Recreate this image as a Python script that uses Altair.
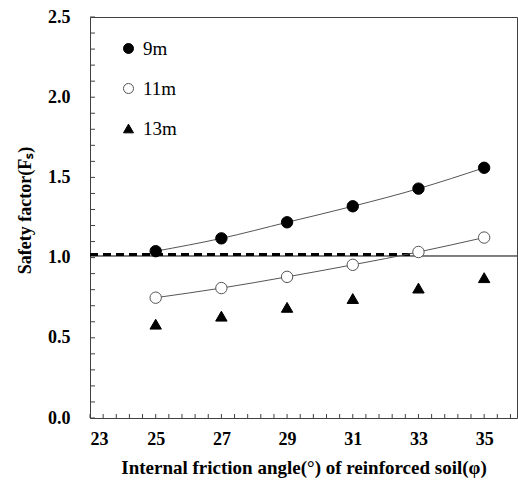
import altair as alt
import pandas as pd

# Internal friction angle of the reinforced soil (degrees)
angles = [25, 27, 29, 31, 33, 35]
# Safety factor for each wall height
fs_9m = [1.04, 1.12, 1.22, 1.32, 1.43, 1.56]
fs_11m = [0.75, 0.81, 0.88, 0.955, 1.035, 1.125]
fs_13m = [0.585, 0.635, 0.69, 0.745, 0.81, 0.875]
heights = ["9m", "11m", "13m"]

# Axis tick positions
x_labels = [23, 25, 27, 29, 31, 33, 35]
y_labels = [0.0, 0.5, 1.0, 1.5, 2.0, 2.5]
x_minor = [round(23 + 0.4 * i, 1) for i in range(33)]
y_minor = [round(0.1 * i, 1) for i in range(26)]

# Reference safety-factor lines
dashed_fs, dashed_from, dashed_to = 1.02, 23, 33
solid_fs, solid_from, solid_to = 1.01, 23, 36

FONT = "Liberation Serif, Times New Roman, serif"
W, H = 427, 401

df = pd.DataFrame({
    "angle": angles * 3,
    "fs": fs_9m + fs_11m + fs_13m,
    "height": [h for h in heights for _ in angles],
})
curves = df[df["height"] != "13m"]

xs = alt.Scale(domain=[23, 36], nice=False, zero=False)
ys = alt.Scale(domain=[0, 2.5], nice=False)

x_axis = alt.Axis(
    values=x_labels, format="d", ticks=False, grid=False, domain=False,
    labelFont=FONT, labelFontSize=18, labelFontWeight="bold", labelColor="black",
    labelPadding=12,
    title="Internal friction angle(°) of reinforced soil(φ)",
    titleFont=FONT, titleFontSize=19, titleFontWeight="bold", titleColor="black",
    titleBaseline="alphabetic", titleY=55,
)
y_axis = alt.Axis(
    values=y_labels, format=".1f", ticks=False, grid=False, domain=False,
    labelFont=FONT, labelFontSize=18, labelFontWeight="bold", labelColor="black",
    labelPadding=20,
    title="Safety factor(F\u209b)",
    titleFont=FONT, titleFontSize=18, titleFontWeight="bold", titleColor="black",
    titleAngle=270, titleAlign="center", titleBaseline="bottom",
    titleX=-56, titleY=193,
)

X = alt.X("angle:Q", scale=xs, axis=x_axis)
Y = alt.Y("fs:Q", scale=ys, axis=y_axis)

# Reference lines
dashed = alt.Chart(pd.DataFrame({"a": [dashed_from], "b": [dashed_to], "v": [dashed_fs]})).mark_rule(
    color="black", strokeWidth=3, strokeDash=[8, 5]
).encode(x=alt.X("a:Q", scale=xs, axis=x_axis), x2="b:Q", y=alt.Y("v:Q", scale=ys, axis=y_axis))

solid = alt.Chart(pd.DataFrame({"a": [solid_from], "b": [solid_to], "v": [solid_fs]})).mark_rule(
    color="black", strokeWidth=1
).encode(x=alt.X("a:Q", scale=xs), x2="b:Q", y=alt.Y("v:Q", scale=ys))

# Trend curves through the 9m and 11m results
lines = alt.Chart(curves).mark_line(color="#555555", strokeWidth=1, interpolate="monotone").encode(
    x=X, y=Y, detail="height:N"
)

legend = alt.Legend(
    title=None, orient="none", legendX=29, legendY=22,
    labelFont=FONT, labelFontSize=19, labelColor="black", labelOffset=5,
    symbolSize=100, symbolStrokeWidth=1, rowPadding=20,
)
points = alt.Chart(df).mark_point(filled=False, opacity=1, size=130, strokeWidth=1).encode(
    x=X, y=Y,
    shape=alt.Shape("height:N", sort=heights,
                    scale=alt.Scale(domain=heights, range=["circle", "circle", "triangle-up"]),
                    legend=legend),
    fill=alt.Fill("height:N", sort=heights,
                  scale=alt.Scale(domain=heights, range=["black", "white", "black"]),
                  legend=legend),
    stroke=alt.Stroke("height:N", sort=heights,
                      scale=alt.Scale(domain=heights, range=["black", "#555555", "black"]),
                      legend=legend),
)

# Inward tick marks on the left and bottom edges
y_ticks = alt.Chart(pd.DataFrame({"t": y_minor})).mark_rule(color="#404040", strokeWidth=1).encode(
    y=alt.Y("t:Q", scale=ys), x=alt.value(0), x2=alt.value(5)
)
x_ticks = alt.Chart(pd.DataFrame({"t": x_minor})).mark_rule(color="#404040", strokeWidth=1).encode(
    x=alt.X("t:Q", scale=xs), y=alt.value(H - 4), y2=alt.value(H)
)

chart = alt.layer(dashed, solid, lines, points, y_ticks, x_ticks).properties(
    width=W, height=H,
    autosize=alt.AutoSizeParams(type="none"),
    padding={"left": 90, "top": 17, "right": 1, "bottom": 64},
    background="white",
).configure(font=FONT).configure_view(stroke="#404040", strokeWidth=1)

chart.save("out.html", embed_options={"renderer": "svg", "actions": False})
